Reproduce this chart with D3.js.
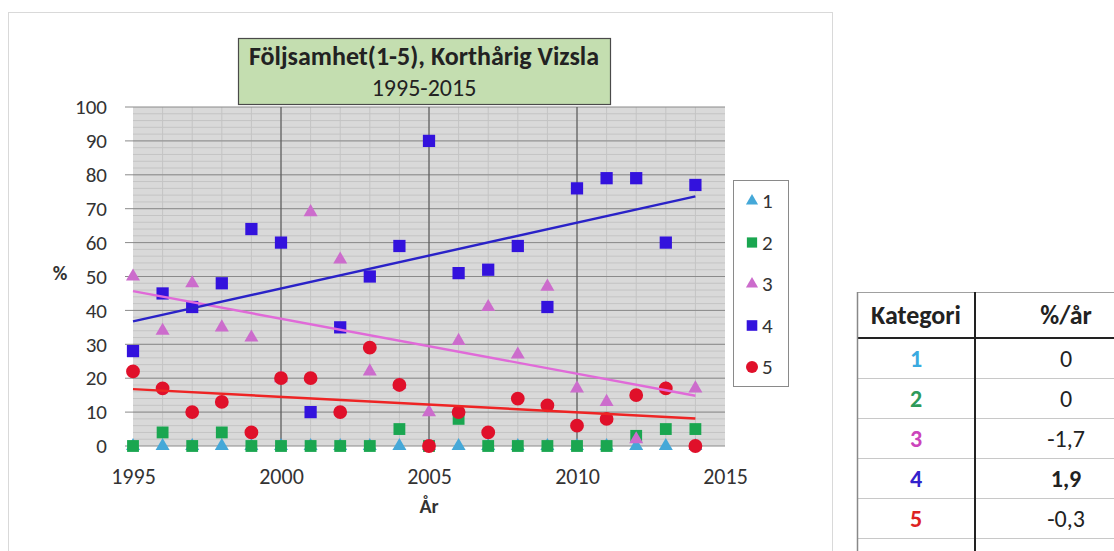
<!DOCTYPE html>
<html>
<head>
<meta charset="utf-8">
<script src="https://cdn.jsdelivr.net/npm/d3@7"></script>
<style>
body{margin:0;background:#fff;}
text{font-family:Carlito,Lato,"Open Sans",sans-serif;}
</style>
</head>
<body>
<svg id="ChartSvg" width="1114" height="551"></svg>
<script>
// data, one value per year (hidden points sit under other marks)
var Years = [1995,1996,1997,1998,1999,2000,2001,2002,2003,2004,2005,2006,2007,2008,2009,2010,2011,2012,2013,2014];
var Kat1 = [0,0,0,0,0,0,0,0,0,0,0,0,0,0,0,0,0,0,0,0];
var Kat2 = [0,4,0,4,0,0,0,0,0,5,0,8,0,0,0,0,0,3,5,5];
var Kat3 = [50,34,48,35,32,20,69,55,22,18,10,31,41,27,47,17,13,2,17,17];
var Kat4 = [28,45,41,48,64,60,10,35,50,59,90,51,52,59,41,76,79,79,60,77];
var Kat5 = [22,17,10,13,4,20,20,10,29,18,0,10,4,14,12,6,8,15,17,0];
var XTicks = [1995,2000,2005,2010,2015];
var YTicks = [0,10,20,30,40,50,60,70,80,90,100];
var TableKat = ["1","2","3","4","5"];
var TableVal = ["0","0","-1,7","1,9","-0,3"];

var Font = "Carlito,Lato,'Open Sans',sans-serif";
var Svg = d3.select("#ChartSvg");

// outer chart frame
Svg.append("rect")
	.attr("x",8.5).attr("y",12.5).attr("width",824).attr("height",560)
	.style("fill","#fff").style("stroke","#d9d9d9");

var Left = 133, Right = 725, Top = 107, Bottom = 446;
var X = d3.scaleLinear().domain([1995,2015]).range([Left,Right]);
var Y = d3.scaleLinear().domain([0,100]).range([Bottom,Top]);

Svg.append("rect")
	.attr("x",Left).attr("y",Top).attr("width",Right-Left).attr("height",Bottom-Top)
	.style("fill","#d9d9d9");

// minor grid
var Grid = Svg.append("g");
Grid.selectAll(".vminor")
	.data(d3.range(1996,2015))
	.enter().append("line")
	.attr("x1",function(d){return X(d);}).attr("x2",function(d){return X(d);})
	.attr("y1",Top).attr("y2",Bottom)
	.style("stroke","#c4c4c4").style("stroke-width",1);
Grid.selectAll(".hminor")
	.data(d3.range(2,100,2))
	.enter().append("line")
	.attr("x1",Left).attr("x2",Right)
	.attr("y1",function(d){return Y(d);}).attr("y2",function(d){return Y(d);})
	.style("stroke","#c4c4c4").style("stroke-width",1);

// major grid
Grid.selectAll(".hmajor")
	.data(YTicks)
	.enter().append("line")
	.attr("x1",Left-8).attr("x2",Right)
	.attr("y1",function(d){return Y(d);}).attr("y2",function(d){return Y(d);})
	.style("stroke","#8a8a8a").style("stroke-width",1);
Grid.selectAll(".vmajor")
	.data([2000,2005,2010])
	.enter().append("line")
	.attr("x1",function(d){return X(d);}).attr("x2",function(d){return X(d);})
	.attr("y1",Top).attr("y2",Bottom)
	.style("stroke","#5a5a5a").style("stroke-width",1.2);

// axes labels
var YAxis = d3.axisLeft(Y).tickValues(YTicks).tickSize(0).tickPadding(26);
Svg.append("g").attr("transform","translate("+Left+",0)").call(YAxis)
	.call(function(g){g.select(".domain").remove();})
	.selectAll("text").style("font-size","21px").style("fill","#333")
	.style("font-family",Font);

var XAxis = d3.axisBottom(X).tickValues(XTicks).tickFormat(d3.format("d")).tickSize(0).tickPadding(22);
Svg.append("g").attr("transform","translate(0,"+Bottom+")").call(XAxis)
	.call(function(g){g.select(".domain").remove();})
	.selectAll("text").style("font-size","22px").style("fill","#333")
	.style("font-family",Font);

Svg.append("text").attr("x",60).attr("y",280).attr("text-anchor","middle")
	.style("font-size","20px").style("font-weight","bold").style("fill","#333").text("%");
Svg.append("text").attr("x",429).attr("y",513).attr("text-anchor","middle")
	.style("font-size","20px").style("font-weight","bold").style("fill","#333").text("År");

// series
var Series = [
	{name:"1", values:Kat1, shape:d3.symbolTriangle, color:"#45a8d8", size:85, trend:null},
	{name:"2", values:Kat2, shape:d3.symbolSquare, color:"#1aa650", size:140, trend:null},
	{name:"3", values:Kat3, shape:d3.symbolTriangle, color:"#cc6ccc", size:85, trend:"#e06ad8"},
	{name:"4", values:Kat4, shape:d3.symbolSquare, color:"#3312dd", size:150, trend:"#2a22c8"},
	{name:"5", values:Kat5, shape:d3.symbolCircle, color:"#e0102a", size:150, trend:"#ee2424"}
];

Series.forEach(function(S)
{
	var Pts = Years.map(function(y,i){return {x:y, v:S.values[i]};})
		.filter(function(p){return p.v !== null;});
	Svg.append("g").selectAll("path")
		.data(Pts)
		.enter().append("path")
		.attr("d",d3.symbol().type(S.shape).size(S.size))
		.attr("transform",function(p){return "translate("+X(p.x)+","+Y(p.v)+")";})
		.style("fill",S.color);
});

// linear trend lines
Series.forEach(function(S)
{
	if(!S.trend) return;
	var Pts = Years.map(function(y,i){return {x:y, v:S.values[i]};})
		.filter(function(p){return p.v !== null;});
	var mx = d3.mean(Pts,function(p){return p.x;});
	var my = d3.mean(Pts,function(p){return p.v;});
	var sxy = d3.sum(Pts,function(p){return (p.x-mx)*(p.v-my);});
	var sxx = d3.sum(Pts,function(p){return (p.x-mx)*(p.x-mx);});
	var k = sxy/sxx;
	var Ends = [Years[0],Years[Years.length-1]].map(function(x){return {x:x, v:my+k*(x-mx)};});
	Svg.append("path")
		.datum(Ends)
		.attr("d",d3.line().x(function(p){return X(p.x);}).y(function(p){return Y(p.v);}))
		.style("stroke",S.trend).style("stroke-width",2.4).style("fill","none");
});

// title box
Svg.append("rect").attr("x",238.5).attr("y",38.5).attr("width",372).attr("height",66)
	.style("fill","#c4deb0").style("stroke","#4a4a4a").style("stroke-width",1.2);
Svg.append("text").attr("x",424).attr("y",65).attr("text-anchor","middle")
	.style("font-size","26px").style("font-weight","bold").style("fill","#222")
	.text("Följsamhet(1-5), Korthårig Vizsla");
Svg.append("text").attr("x",424).attr("y",96).attr("text-anchor","middle")
	.style("font-size","24px").style("fill","#222").text("1995-2015");

// legend
var Legend = Svg.append("g");
Legend.append("rect").attr("x",733.5).attr("y",180.5).attr("width",55).attr("height",206)
	.style("fill","#fff").style("stroke","#8a8a8a");
var LegItem = Legend.selectAll(".leg")
	.data(Series)
	.enter().append("g")
	.attr("transform",function(d,i){return "translate(752,"+(201+i*41.5)+")";});
LegItem.append("path")
	.attr("d",function(d){return d3.symbol().type(d.shape).size(d.size*0.75)();})
	.style("fill",function(d){return d.color;});
LegItem.append("text").attr("x",10).attr("y",7)
	.style("font-size","21px").style("fill","#333")
	.text(function(d){return d.name;});

// table of yearly change
var TabX = 857, TabMid = 975, TabTop = 292, HeadH = 46, RowH = 40;
var TabColors = ["#3aaae0","#2e9a5a","#cc44bb","#3322cc","#dd2222"];
var Tab = Svg.append("g");
Tab.selectAll(".rowline")
	.data(TableKat)
	.enter().append("line")
	.attr("x1",TabX).attr("x2",1114)
	.attr("y1",function(d,i){return TabTop+HeadH+RowH*(i+1)+0.5;})
	.attr("y2",function(d,i){return TabTop+HeadH+RowH*(i+1)+0.5;})
	.style("stroke","#c8c8c8");
Tab.append("line").attr("x1",TabX).attr("x2",1114).attr("y1",TabTop+0.5).attr("y2",TabTop+0.5)
	.style("stroke","#a0a0a0");
Tab.append("line").attr("x1",TabX).attr("x2",1114).attr("y1",TabTop+HeadH).attr("y2",TabTop+HeadH)
	.style("stroke","#222").style("stroke-width",2);
Tab.append("line").attr("x1",TabX+0.5).attr("x2",TabX+0.5).attr("y1",TabTop).attr("y2",551)
	.style("stroke","#888").style("stroke-width",1.5);
Tab.append("line").attr("x1",TabMid).attr("x2",TabMid).attr("y1",TabTop).attr("y2",551)
	.style("stroke","#222").style("stroke-width",2);
Tab.append("text").attr("x",(TabX+TabMid)/2).attr("y",TabTop+32).attr("text-anchor","middle")
	.style("font-size","26px").style("font-weight","bold").style("fill","#222").text("Kategori");
Tab.append("text").attr("x",1066).attr("y",TabTop+32).attr("text-anchor","middle")
	.style("font-size","26px").style("font-weight","bold").style("fill","#222").text("%/år");
Tab.selectAll(".kat")
	.data(TableKat)
	.enter().append("text")
	.attr("x",(TabX+TabMid)/2)
	.attr("y",function(d,i){return TabTop+HeadH+RowH*i+29;})
	.attr("text-anchor","middle")
	.style("font-size","24px").style("font-weight","bold")
	.style("fill",function(d,i){return TabColors[i];})
	.text(function(d){return d;});
Tab.selectAll(".val")
	.data(TableVal)
	.enter().append("text")
	.attr("x",1066)
	.attr("y",function(d,i){return TabTop+HeadH+RowH*i+29;})
	.attr("text-anchor","middle")
	.style("font-size","24px")
	.style("font-weight",function(d,i){return i===3?"bold":"normal";})
	.style("fill","#222")
	.text(function(d){return d;});
</script>
</body>
</html>
